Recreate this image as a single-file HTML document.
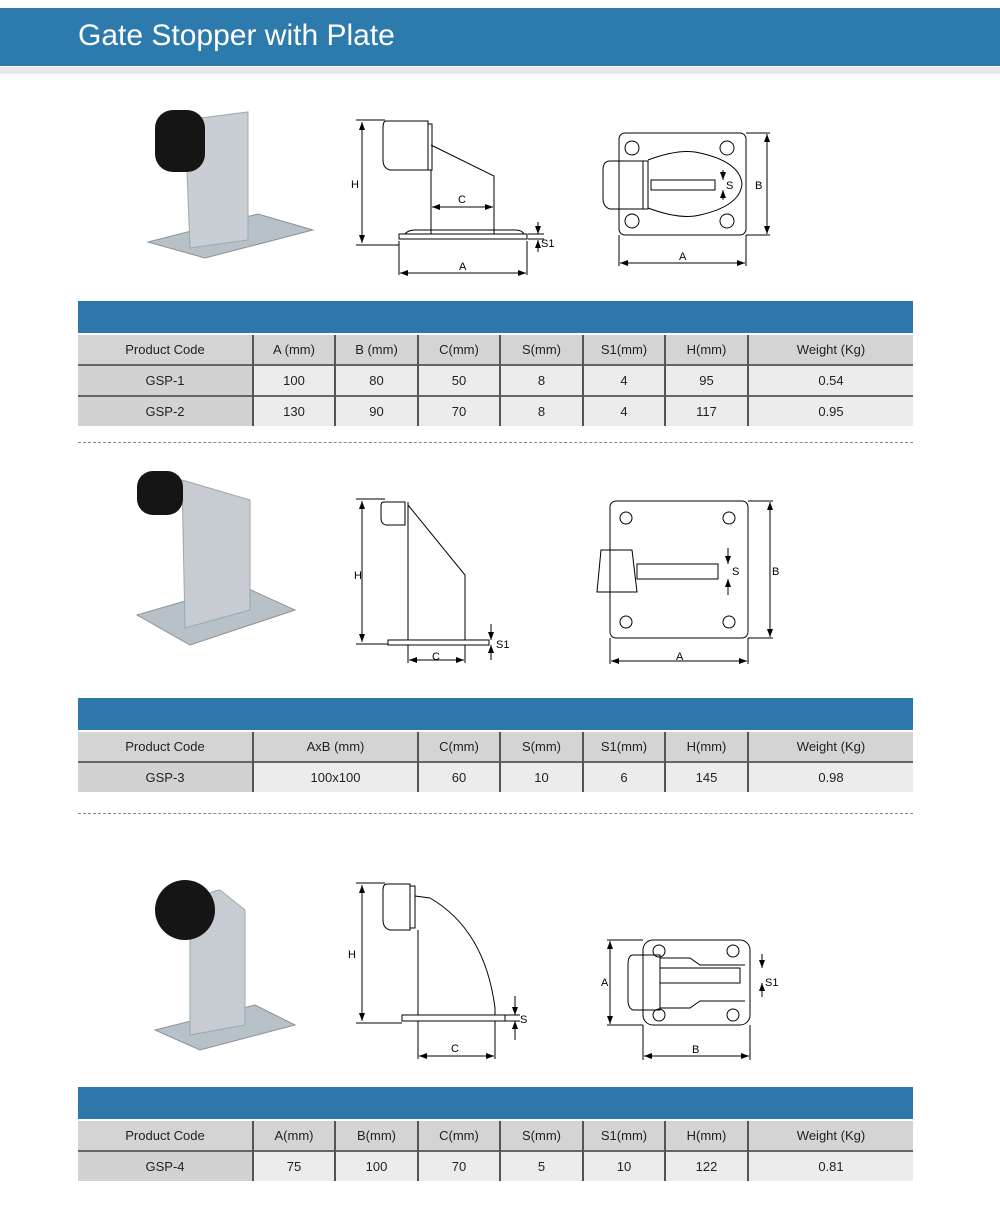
<!DOCTYPE html>
<html><head><meta charset="utf-8"><style>
body{margin:0;background:#fff;width:1000px;height:1219px;position:relative;overflow:hidden;font-family:"Liberation Sans",Arial,sans-serif}
.hdr{position:absolute;left:0;top:8px;width:1000px;height:58px;background:#2d7aad}
.hdr span{position:absolute;left:78px;top:11px;color:#fff;font-size:30px}
.sub{position:absolute;left:0;top:67px;width:1000px;height:7px;background:#e8e9ea}
.bar{position:absolute;left:78px;width:835px;height:32px;background:#2d77aa}
table{position:absolute;left:78px;width:835px;border-collapse:collapse;font-size:13px;color:#222;table-layout:fixed}
td{text-align:center;height:29px;padding:0;border-left:2px solid #555;border-top:2px solid #666;background:#ececec}
tr td:first-child{border-left:none;background:#d2d2d2}
tr.h td{background:#d4d4d4;border-top:2px solid #fff}
.dash{position:absolute;left:78px;width:835px;border-top:1px dashed #888}
svg{position:absolute;left:0;top:0}
</style></head><body>
<div class="hdr"><span>Gate Stopper with Plate</span></div>
<div class="sub"></div>

<div class="bar" style="top:301px"></div>
<table style="top:333px"><colgroup><col style="width:175px"><col style="width:82px"><col style="width:83px"><col style="width:82px"><col style="width:83px"><col style="width:82px"><col style="width:83px"><col></colgroup>
<tr class="h"><td>Product Code</td><td>A (mm)</td><td>B (mm)</td><td>C(mm)</td><td>S(mm)</td><td>S1(mm)</td><td>H(mm)</td><td>Weight (Kg)</td></tr>
<tr><td>GSP-1</td><td>100</td><td>80</td><td>50</td><td>8</td><td>4</td><td>95</td><td>0.54</td></tr>
<tr><td>GSP-2</td><td>130</td><td>90</td><td>70</td><td>8</td><td>4</td><td>117</td><td>0.95</td></tr></table>
<div class="dash" style="top:442px"></div>

<div class="bar" style="top:698px"></div>
<table style="top:730px"><colgroup><col style="width:175px"><col style="width:165px"><col style="width:82px"><col style="width:83px"><col style="width:82px"><col style="width:83px"><col></colgroup>
<tr class="h"><td>Product Code</td><td>AxB (mm)</td><td>C(mm)</td><td>S(mm)</td><td>S1(mm)</td><td>H(mm)</td><td>Weight (Kg)</td></tr>
<tr><td>GSP-3</td><td>100x100</td><td>60</td><td>10</td><td>6</td><td>145</td><td>0.98</td></tr></table>
<div class="dash" style="top:813px"></div>

<div class="bar" style="top:1087px"></div>
<table style="top:1119px"><colgroup><col style="width:175px"><col style="width:82px"><col style="width:83px"><col style="width:82px"><col style="width:83px"><col style="width:82px"><col style="width:83px"><col></colgroup>
<tr class="h"><td>Product Code</td><td>A(mm)</td><td>B(mm)</td><td>C(mm)</td><td>S(mm)</td><td>S1(mm)</td><td>H(mm)</td><td>Weight (Kg)</td></tr>
<tr><td>GSP-4</td><td>75</td><td>100</td><td>70</td><td>5</td><td>10</td><td>122</td><td>0.81</td></tr></table>

<svg width="1000" height="1219" viewBox="0 0 1000 1219" font-family="Liberation Sans,Arial,sans-serif" font-size="11">
<defs><marker id="a" markerWidth="8" markerHeight="6" refX="8" refY="3" orient="auto-start-reverse"><path d="M0,0L8,3L0,6z" fill="#000"/></marker></defs>
<g>
<polygon points="148,242 205,258 313,230 258,214" fill="#b8c0c8" stroke="#8a929a"/>
<polygon points="185,120 248,112 248,240 190,248" fill="#c8ced4" stroke="#9aa"/>
<rect x="155" y="110" width="50" height="62" rx="18" fill="#151515"/>
<polygon points="137,615 190,645 295,610 240,585" fill="#b8c0c8" stroke="#8a929a"/>
<polygon points="182,480 250,500 250,610 185,628" fill="#c6ccd2" stroke="#9aa"/>
<rect x="137" y="471" width="46" height="44" rx="16" fill="#151515"/>
<polygon points="155,1030 200,1050 295,1025 255,1005" fill="#b8c0c8" stroke="#8a929a"/>
<path d="M190,1035 L190,930 Q190,895 220,890 L245,910 L245,1025z" fill="#c6ccd2" stroke="#9aa"/>
<ellipse cx="185" cy="910" rx="30" ry="30" fill="#151515"/>
</g>
<g fill="none" stroke="#000" stroke-width="1">
<line x1="362" y1="122" x2="362" y2="243" marker-start="url(#a)" marker-end="url(#a)"/>
<line x1="356" y1="245" x2="399" y2="245"/><line x1="356" y1="120" x2="385" y2="120"/>
<path d="M386,121 L428,121 L428,170 L390,170 Q383,168 383,160 L383,128 Q383,121 386,121z"/>
<rect x="428" y="124" width="4" height="46"/>
<path d="M431,145 L494,176 L494,234 M431,170 L431,234"/>
<path d="M405,234 Q408,230 415,230 L515,230 Q522,230 524,234"/>
<rect x="399" y="234" width="128" height="5"/>
<line x1="432" y1="207" x2="493" y2="207" marker-start="url(#a)" marker-end="url(#a)"/>
<line x1="399" y1="241" x2="399" y2="275"/><line x1="527" y1="241" x2="527" y2="275"/>
<line x1="400" y1="273" x2="526" y2="273" marker-start="url(#a)" marker-end="url(#a)"/>
<line x1="538" y1="222" x2="538" y2="234" marker-end="url(#a)"/><line x1="538" y1="252" x2="538" y2="240" marker-end="url(#a)"/>
<line x1="528" y1="234" x2="544" y2="234"/><line x1="528" y1="239" x2="544" y2="239"/>
<rect x="619" y="133" width="127" height="102" rx="6"/>
<circle cx="632" cy="148" r="7"/><circle cx="727" cy="148" r="7"/><circle cx="632" cy="221" r="7"/><circle cx="727" cy="221" r="7"/>
<path d="M648,160 Q680,148 700,153 Q740,162 742,184 Q740,206 700,215 Q680,220 648,208"/>
<path d="M610,161 L643,161 L643,209 L610,209 Q603,207 603,198 L603,170 Q603,161 610,161z"/>
<rect x="643" y="161" width="5" height="48"/>
<rect x="651" y="180" width="64" height="10"/>
<line x1="723" y1="170" x2="723" y2="180" marker-end="url(#a)"/><line x1="723" y1="200" x2="723" y2="190" marker-end="url(#a)"/>
<line x1="746" y1="133" x2="770" y2="133"/><line x1="746" y1="235" x2="770" y2="235"/>
<line x1="767" y1="134" x2="767" y2="234" marker-start="url(#a)" marker-end="url(#a)"/>
<line x1="619" y1="235" x2="619" y2="266"/><line x1="746" y1="235" x2="746" y2="266"/>
<line x1="620" y1="263" x2="745" y2="263" marker-start="url(#a)" marker-end="url(#a)"/>
<line x1="362" y1="501" x2="362" y2="642" marker-start="url(#a)" marker-end="url(#a)"/>
<line x1="356" y1="499" x2="385" y2="499"/><line x1="356" y1="644" x2="388" y2="644"/>
<path d="M384,502 L405,502 L405,525 L386,525 Q381,524 381,518 L381,506 Q381,502 384,502z"/>
<path d="M408,502 L408,640 M408,505 L465,575 L465,640"/>
<rect x="388" y="640" width="101" height="5"/>
<line x1="408" y1="645" x2="408" y2="663"/><line x1="465" y1="645" x2="465" y2="663"/>
<line x1="409" y1="660" x2="464" y2="660" marker-start="url(#a)" marker-end="url(#a)"/>
<line x1="491" y1="624" x2="491" y2="640" marker-end="url(#a)"/><line x1="491" y1="660" x2="491" y2="645" marker-end="url(#a)"/>
<rect x="610" y="501" width="138" height="137" rx="6"/>
<circle cx="626" cy="518" r="6"/><circle cx="729" cy="518" r="6"/><circle cx="626" cy="622" r="6"/><circle cx="729" cy="622" r="6"/>
<path d="M601,550 L632,550 L637,592 L597,592z"/>
<rect x="637" y="564" width="81" height="15"/>
<line x1="728" y1="548" x2="728" y2="564" marker-end="url(#a)"/><line x1="728" y1="595" x2="728" y2="579" marker-end="url(#a)"/>
<line x1="748" y1="501" x2="773" y2="501"/><line x1="748" y1="638" x2="773" y2="638"/>
<line x1="770" y1="502" x2="770" y2="637" marker-start="url(#a)" marker-end="url(#a)"/>
<line x1="610" y1="638" x2="610" y2="664"/><line x1="748" y1="638" x2="748" y2="664"/>
<line x1="611" y1="661" x2="747" y2="661" marker-start="url(#a)" marker-end="url(#a)"/>
<line x1="362" y1="885" x2="362" y2="1021" marker-start="url(#a)" marker-end="url(#a)"/>
<line x1="356" y1="883" x2="385" y2="883"/><line x1="356" y1="1023" x2="402" y2="1023"/>
<path d="M387,884 L410,884 L410,930 L390,930 Q383,928 383,920 L383,890 Q383,884 387,884z"/>
<rect x="410" y="886" width="5" height="42"/>
<path d="M418,930 L418,1015 M415,896 L430,898 Q485,930 495,1008 L495,1015"/>
<rect x="402" y="1015" width="103" height="6"/>
<line x1="418" y1="1021" x2="418" y2="1059"/><line x1="495" y1="1021" x2="495" y2="1059"/>
<line x1="419" y1="1056" x2="494" y2="1056" marker-start="url(#a)" marker-end="url(#a)"/>
<line x1="515" y1="996" x2="515" y2="1015" marker-end="url(#a)"/><line x1="515" y1="1040" x2="515" y2="1021" marker-end="url(#a)"/>
<line x1="505" y1="1015" x2="520" y2="1015"/><line x1="505" y1="1021" x2="520" y2="1021"/>
<rect x="643" y="940" width="107" height="85" rx="10"/>
<circle cx="659" cy="951" r="6"/><circle cx="733" cy="951" r="6"/><circle cx="659" cy="1015" r="6"/><circle cx="733" cy="1015" r="6"/>
<path d="M660,958 L690,958 L700,965 L745,965 M660,1008 L690,1008 L700,1001 L745,1001"/>
<path d="M633,955 L660,955 L660,1010 L633,1010 Q628,1008 628,1000 L628,965 Q628,955 633,955z"/>
<rect x="660" y="968" width="80" height="15"/>
<line x1="762" y1="954" x2="762" y2="968" marker-end="url(#a)"/><line x1="762" y1="997" x2="762" y2="983" marker-end="url(#a)"/>
<line x1="607" y1="940" x2="643" y2="940"/><line x1="607" y1="1025" x2="643" y2="1025"/>
<line x1="610" y1="941" x2="610" y2="1024" marker-start="url(#a)" marker-end="url(#a)"/>
<line x1="643" y1="1025" x2="643" y2="1060"/><line x1="750" y1="1025" x2="750" y2="1060"/>
<line x1="644" y1="1056" x2="749" y2="1056" marker-start="url(#a)" marker-end="url(#a)"/>
</g>
<g fill="#000">
<text x="351" y="188">H</text><text x="458" y="203">C</text><text x="459" y="270">A</text><text x="541" y="247">S1</text>
<text x="726" y="189">S</text><text x="755" y="189">B</text><text x="679" y="260">A</text>
<text x="354" y="579">H</text><text x="432" y="660">C</text><text x="496" y="648">S1</text>
<text x="732" y="575">S</text><text x="772" y="575">B</text><text x="676" y="660">A</text>
<text x="348" y="958">H</text><text x="451" y="1052">C</text><text x="520" y="1023">S</text>
<text x="765" y="986">S1</text><text x="601" y="986">A</text><text x="692" y="1053">B</text>
</g>
</svg>
</body></html>
